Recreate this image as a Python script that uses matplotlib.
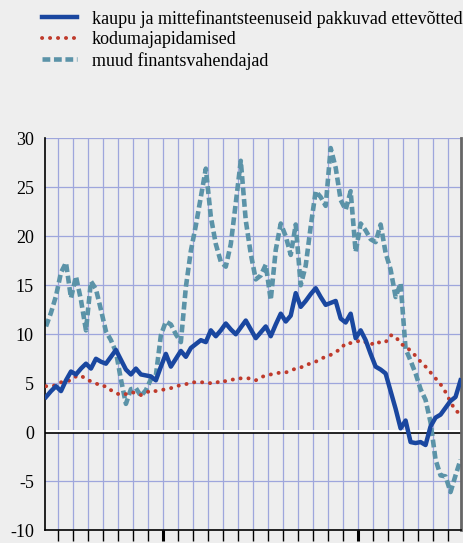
import matplotlib
matplotlib.use('Agg')
import matplotlib.pyplot as plt
import numpy as np

plt.rcParams['font.family'] = ['Liberation Serif', 'DejaVu Serif']
plt.rcParams['axes.unicode_minus'] = False

# series
ettevotted = [3.6, 4.2, 4.7, 4.2, 5.3, 6.2, 5.9, 6.5, 7.0, 6.5,
              7.5, 7.2, 7.0, 7.7, 8.4, 7.4, 6.4, 5.9, 6.5, 5.9,
              5.8, 5.7, 5.3, 6.7, 8.0, 6.7, 7.5, 8.3, 7.7, 8.6,
              9.0, 9.4, 9.2, 10.4, 9.8, 10.4, 11.1, 10.5, 10.0, 10.7,
              11.4, 10.5, 9.6, 10.2, 10.8, 9.8, 11.0, 12.1, 11.3, 11.9,
              14.2, 12.8, 13.4, 14.1, 14.7, 13.8, 13.0, 13.2, 13.4, 11.6,
              11.2, 12.1, 9.6, 10.4, 9.4, 8.0, 6.7, 6.4, 6.0, 4.2,
              2.4, 0.4, 1.2, -1.0, -1.1, -1.0, -1.3, 0.6, 1.5, 1.8,
              2.5, 3.2, 3.6, 5.3]
kodumajapidamised = [4.7, 4.7, 4.8, 5.1, 5.2, 5.3, 5.7, 5.8, 5.4, 5.2,
                     5.0, 4.7, 4.7, 4.3, 4.0, 3.8, 3.9, 4.1, 4.0, 3.8,
                     4.0, 4.3, 4.2, 4.3, 4.4, 4.5, 4.7, 4.8, 4.9, 5.1,
                     5.1, 5.1, 5.1, 5.0, 5.0, 5.3, 5.2, 5.3, 5.5, 5.5,
                     5.5, 5.5, 5.3, 5.6, 5.8, 5.9, 6.0, 6.1, 6.1, 6.3,
                     6.5, 6.6, 6.9, 7.0, 7.2, 7.5, 7.7, 7.9, 8.2, 8.5,
                     9.1, 9.1, 9.2, 9.4, 9.2, 8.9, 9.3, 9.1, 9.2, 9.9,
                     9.8, 9.0, 8.8, 8.3, 7.8, 7.2, 6.7, 6.1, 5.5, 4.9,
                     4.1, 3.1, 2.2, 1.9]
finantsvahendajad = [10.8, 12.2, 13.9, 16.3, 17.3, 13.7, 15.9, 13.5, 10.4, 15.4,
                     14.6, 12.5, 10.3, 9.4, 8.2, 5.4, 2.9, 4.4, 4.5, 3.7,
                     4.3, 5.4, 5.8, 9.9, 11.3, 11.0, 10.0, 9.2, 14.8, 18.5,
                     21.1, 24.0, 26.9, 22.0, 19.2, 17.4, 16.9, 19.2, 23.4, 27.7,
                     21.6, 18.2, 15.6, 16.0, 17.1, 13.5, 18.6, 21.3, 20.0, 18.1,
                     21.2, 15.0, 17.0, 21.0, 24.6, 24.0, 23.1, 29.0, 27.0, 23.7,
                     22.7, 24.6, 18.4, 21.3, 20.6, 19.7, 19.4, 21.2, 18.3, 16.6,
                     13.8, 15.2, 8.5, 7.3, 6.0, 4.4, 3.3, 1.0, -2.8, -4.4,
                     -4.5, -6.1, -4.4, -2.8]
labels = ['kaupu ja mittefinantsteenuseid pakkuvad ettevõtted',
          'kodumajapidamised',
          'muud finantsvahendajad']
y_ticks = [-10, -5, 0, 5, 10, 15, 20, 25, 30]

x = np.arange(len(ettevotted))
bg = '#eeeeee'

fig = plt.figure(figsize=(4.64, 5.43), dpi=100, facecolor=bg)
ax = fig.add_axes([0.097, 0.0234, 0.8966, 0.722], facecolor=bg)

grid_pos = np.arange(2.5, len(x), 3)
ax.set_xticks(grid_pos)
ax.set_xticklabels([])
ax.set_yticks(y_ticks)
ax.set_yticklabels([str(v) for v in y_ticks], fontsize=13)
ax.grid(True, color='#9ea6dc', linewidth=0.9)
ax.set_axisbelow(True)
ax.tick_params(axis='y', length=0, pad=8)
ax.tick_params(axis='x', length=8, width=1, direction='out', color='black')
for t in [7, 20]:
    ax.xaxis.get_major_ticks()[t].tick1line.set_markeredgewidth(2.2)

ax.axhline(0.15, color='white', linewidth=2.2, zorder=1)
ax.axhline(-0.12, color='black', linewidth=1.2, zorder=1)

ax.plot(x, ettevotted, color='#1a47a0', linewidth=3.2, label=labels[0], zorder=4)
ax.plot(x, kodumajapidamised, color='#bf3a2b', linewidth=2.8,
        linestyle=(0, (0.05, 2.0)), dash_capstyle='round', label=labels[1], zorder=3)
ax.plot(x, finantsvahendajad, color='#5b93a8', linewidth=3.3,
        linestyle=(0, (1.7, 0.8)), label=labels[2], zorder=2)

ax.set_xlim(-0.2, len(x) - 0.9)
ax.set_ylim(-10, 30)

ax.spines['top'].set_visible(False)
ax.spines['left'].set_color('black')
ax.spines['left'].set_linewidth(1.2)
ax.spines['bottom'].set_color('black')
ax.spines['bottom'].set_linewidth(1.2)
ax.spines['right'].set_color('#666666')
ax.spines['right'].set_linewidth(2)

fig.legend(loc='upper left', bbox_to_anchor=(0.09, 0.982), frameon=False,
           fontsize=13, handlelength=1.95, handletextpad=0.83, labelspacing=0.2,
           borderpad=0, borderaxespad=0)

fig.savefig('out.png', dpi=100, facecolor=bg)
